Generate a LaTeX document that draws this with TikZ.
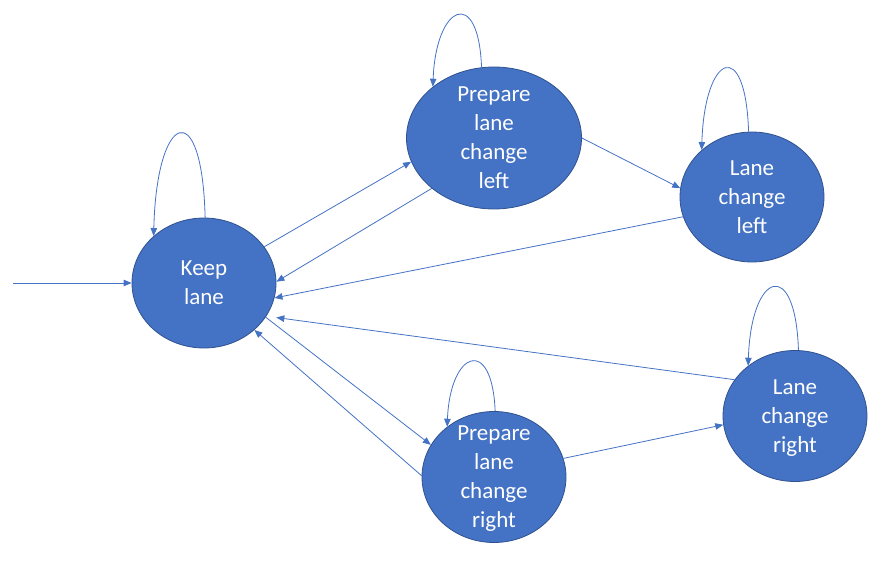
\documentclass[tikz,border=0pt]{standalone}
\usepackage{fontspec}
\setmainfont{Carlito}
\usepackage{xcolor}
\definecolor{stateblue}{RGB}{68,114,196}
\definecolor{stateborder}{RGB}{47,82,143}
\usepackage{tikz}
\usetikzlibrary{arrows.meta}
\usetikzlibrary{shapes.geometric}
\newcommand{\widthstate}{144pt}
\newcommand{\heightstate}{130pt}
\tikzset{
    state/.style={ellipse, draw=stateborder, fill=stateblue, line width=0.8pt,
        text=white, align=center, inner sep=-12pt, text depth=-3pt,
        font=\fontsize{23}{29}\selectfont,
        minimum width=\widthstate, minimum height=\heightstate},
    trans/.style={draw=stateblue, line width=0.8pt, -{Triangle[length=8pt, width=6.5pt]}}
}

\begin{document}
\begin{tikzpicture}[x=1pt, y=-1pt]
      \useasboundingbox (0,0) rectangle (881,564);

      \node[state] (KL) at (204,283) {Keep\\lane};
      \node[state, minimum width=175pt, minimum height=142pt] (PLCL) at (494,138) {Prepare\\lane\\change\\left};
      \node[state] (LCL) at (752,197) {Lane\\change\\left};
      \node[state, minimum height=131pt] (PLCR) at (494,477) {Prepare\\lane\\change\\right};
      \node[state, minimum height=131pt] (LCR) at (795,416) {Lane\\change\\right};
      \coordinate (init) at (13,283);

      \draw[trans] (init) -- (KL.west);
      \draw[trans] (KL.89) .. controls +(-3,-124) and +(3,-124) .. (KL.137);
      \draw[trans] (PLCL.100) .. controls +(-3,-82) and +(3,-82) .. (PLCL.140);
      \draw[trans] (LCL.93) .. controls +(-3,-96) and +(3,-96) .. (LCL.137);
      \draw[trans] (PLCR.89) .. controls +(-3,-76) and +(3,-76) .. (PLCR.133);
      \draw[trans] (LCR.87) .. controls +(-3,-94) and +(3,-94) .. (LCR.133);

      \draw[trans] (KL.31) -- (PLCL.196);
      \draw[trans] (PLCL.219) -- (KL.1);
      \draw[trans] (PLCL.0) -- (LCL.173);
      \draw[trans] (LCL.196) -- (KL.-12);
      \draw[trans] (KL.-29) -- (PLCR.153);
      \draw[trans] (PLCR.179) -- (KL.-43);
      \draw[trans] (PLCR.15) -- (LCR.187);
      \draw[trans, shorten >=10pt] (LCR.149) -- (KL.-28);
\end{tikzpicture}
\end{document}
